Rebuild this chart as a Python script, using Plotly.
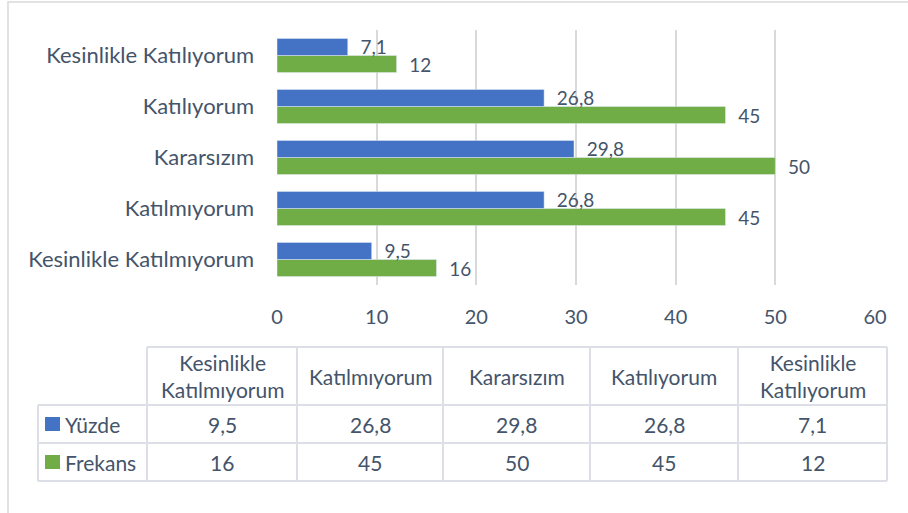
import plotly.graph_objects as go

# categories, bottom to top as in the chart (same order as the table)
categories = ["Kesinlikle Katılmıyorum", "Katılmıyorum", "Kararsızım",
              "Katılıyorum", "Kesinlikle Katılıyorum"]
header_labels = ["Kesinlikle<br>Katılmıyorum", "Katılmıyorum", "Kararsızım",
                 "Katılıyorum", "Kesinlikle<br>Katılıyorum"]
series_names = ["Yüzde", "Frekans"]
yuzde = [9.5, 26.8, 29.8, 26.8, 7.1]
frekans = [16, 45, 50, 45, 12]
x_ticks = [0, 10, 20, 30, 40, 50, 60]

BLUE = "#4472C4"
GREEN = "#70AD47"
TEXT = "#44546A"
GRID = "#D9D9D9"
TGRID = "#DCE0E6"
FONT = "Lato, Calibri, sans-serif"
W, H = 908, 513


def fmt(v):
    # Turkish decimal comma
    return f"{v:g}".replace(".", ",")


def px(x):
    return x / W


def py_(y):
    return 1 - y / H


pad = "\u00a0\u00a0"

fig = go.Figure()

# green first so it sits below the blue bar in each group
fig.add_trace(go.Bar(
    y=categories, x=frekans, orientation="h", name="Frekans",
    marker=dict(color=GREEN),
    text=[pad + fmt(v) for v in frekans], textposition="outside",
    textfont=dict(color=TEXT, size=19, family=FONT), constraintext="none",
    cliponaxis=False, showlegend=False,
))
fig.add_trace(go.Bar(
    y=categories, x=yuzde, orientation="h", name="Yüzde",
    marker=dict(color=BLUE),
    text=[pad + fmt(v) for v in yuzde], textposition="outside",
    textfont=dict(color=TEXT, size=19, family=FONT), constraintext="none",
    cliponaxis=False, showlegend=False,
))

# data table under the chart, built from shapes + annotations
col_x = [38, 147, 297, 443, 590, 738, 887]
row_y = [347, 405, 443, 481]
shapes = []
annotations = []
line = dict(color=TGRID, width=2)

# horizontal lines
shapes.append(dict(type="line", xref="paper", yref="paper",
                   x0=px(col_x[1]), x1=px(col_x[-1]), y0=py_(row_y[0]), y1=py_(row_y[0]), line=line))
for yy in row_y[1:]:
    shapes.append(dict(type="line", xref="paper", yref="paper",
                       x0=px(col_x[0]), x1=px(col_x[-1]), y0=py_(yy), y1=py_(yy), line=line))
# vertical lines
shapes.append(dict(type="line", xref="paper", yref="paper",
                   x0=px(col_x[0]), x1=px(col_x[0]), y0=py_(row_y[1]), y1=py_(row_y[-1]), line=line))
for xx in col_x[1:]:
    shapes.append(dict(type="line", xref="paper", yref="paper",
                       x0=px(xx), x1=px(xx), y0=py_(row_y[0]), y1=py_(row_y[-1]), line=line))

tfont = dict(color=TEXT, size=21, family=FONT)
for i, lab in enumerate(header_labels):
    cx = (col_x[i + 1] + col_x[i + 2]) / 2
    cy = (row_y[0] + row_y[1]) / 2
    annotations.append(dict(xref="paper", yref="paper", x=px(cx), y=py_(cy),
                            text=lab, showarrow=False, font=tfont,
                            xanchor="center", yanchor="middle"))

rows = [yuzde, frekans]
colors = [BLUE, GREEN]
for r, (name, vals, col) in enumerate(zip(series_names, rows, colors)):
    cy = (row_y[r + 1] + row_y[r + 2]) / 2
    # legend key
    shapes.append(dict(type="rect", xref="paper", yref="paper",
                       x0=px(45), x1=px(60), y0=py_(cy - 7), y1=py_(cy + 7),
                       fillcolor=col, line=dict(width=0)))
    annotations.append(dict(xref="paper", yref="paper", x=px(63), y=py_(cy),
                            text=name, showarrow=False, font=tfont,
                            xanchor="left", yanchor="middle"))
    for i, v in enumerate(vals):
        cx = (col_x[i + 1] + col_x[i + 2]) / 2
        annotations.append(dict(xref="paper", yref="paper", x=px(cx), y=py_(cy),
                                text=fmt(v), showarrow=False, font=tfont,
                                xanchor="center", yanchor="middle"))

# outer chart border
shapes.append(dict(type="rect", xref="paper", yref="paper",
                   x0=px(8), x1=1.02, y0=-0.02, y1=py_(2),
                   line=dict(color=GRID, width=1.5), layer="below"))

fig.update_layout(
    width=W, height=H,
    margin=dict(l=0, r=0, t=0, b=0),
    paper_bgcolor="white", plot_bgcolor="white",
    barmode="group", bargap=0.33, bargroupgap=0,
    font=dict(family=FONT, color=TEXT, size=20),
    xaxis=dict(
        domain=[px(277), px(875)], range=[0, 60], automargin=False,
        tickvals=x_ticks, showgrid=True, gridcolor=GRID, gridwidth=1.5,
        zeroline=False, showline=False, ticks="",
        ticklabelstandoff=18,
        tickfont=dict(size=20, color=TEXT),
    ),
    yaxis=dict(
        domain=[py_(285), py_(30)], automargin=False,
        categoryorder="array", categoryarray=categories,
        showgrid=False, zeroline=False, showline=False, ticks="",
        ticklabelstandoff=22,
        tickfont=dict(size=22, color=TEXT),
    ),
    shapes=shapes,
    annotations=annotations,
)

# the page's default body margin would push the figure 8px right/down
fig.write_html("out.html", config={"displayModeBar": False},
               post_script="document.body.style.margin='0px';")
